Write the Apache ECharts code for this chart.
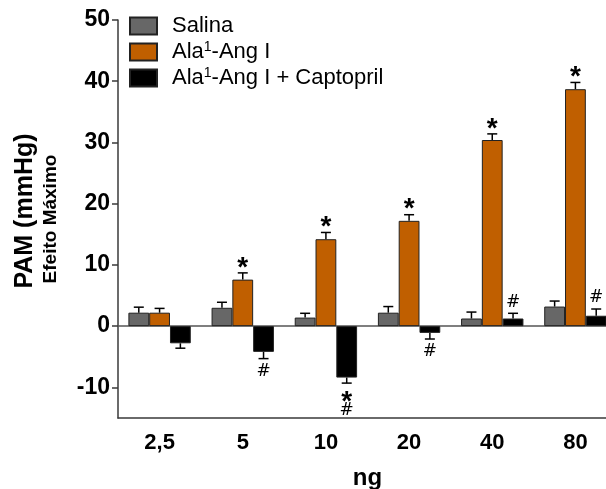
<!DOCTYPE html>
<html>
<head>
<meta charset="utf-8">
<script src="https://cdn.jsdelivr.net/npm/echarts@6/dist/echarts.min.js"></script>
<style>
  html, body { margin: 0; padding: 0; background: #fff; }
  #chart { width: 606px; height: 489px; }
</style>
</head>
<body>
<div id="chart"></div>
<script>
// Doses (ng) on the category axis
const doses = ['2,5', '5', '10', '20', '40', '80'];

// Group names and their legend markup (superscript "1")
const seriesNames = ['Salina', 'Ala1-Ang I', 'Ala1-Ang I + Captopril'];
const legendLabels = ['Salina', 'Ala{sup|1}-Ang I', 'Ala{sup|1}-Ang I + Captopril'];

// Mean change in PAM (mmHg) and SEM per dose
const salina    = [2.2, 3.0, 1.4, 2.2, 1.25, 3.2];
const salinaErr = [0.9, 0.9, 0.7, 1.0, 1.05, 0.9];
const ala       = [2.2, 7.6, 14.2, 17.2, 30.4, 38.7];
const alaErr    = [0.7, 1.1, 1.1, 1.0, 1.0, 1.1];
const capto     = [-2.8, -4.2, -8.4, -1.1, 1.25, 1.7];
const captoErr  = [0.8, 1.1, 0.9, 1.0, 0.85, 1.1];

// Significance marks per group
const salinaMarks = ['', '', '', '', '', ''];
const alaMarks    = ['', '*', '*', '*', '*', '*'];
const captoMarks  = ['', '#', '*#', '#', '#', '#'];

// Y axis ticks and range
const yTicks = [-10, 0, 10, 20, 30, 40, 50];
const yMin = -15, yMax = 50;

const colors = ['#676767', '#C05F00', '#000000'];
const means = [salina, ala, capto];
const errs = [salinaErr, alaErr, captoErr];
const marks = [salinaMarks, alaMarks, captoMarks];

const FONT = '"Liberation Sans", Arial, sans-serif';
const CAT_GAP = 0.25;

function errorRender(params, api) {
  const i = api.value(0);
  const v = api.value(1);
  const e = api.value(2);
  const k = api.value(3);
  const band = api.size([1, 0])[0];
  const bw = band * (1 - CAT_GAP) / 3;
  const x = api.coord([i, 0])[0] + (k - 1) * bw;
  const y0 = api.coord([i, v])[1];
  const dir = v >= 0 ? 1 : -1;
  const y1 = api.coord([i, v + dir * e])[1];
  const cap = 5;
  const children = [
    { type: 'line', shape: { x1: x, y1: y0, x2: x, y2: y1 }, style: { stroke: '#000', lineWidth: 1.5 } },
    { type: 'line', shape: { x1: x - cap, y1: y1, x2: x + cap, y2: y1 }, style: { stroke: '#000', lineWidth: 1.5 } }
  ];
  const m = marks[k][i];
  if (m) {
    let off = 12;
    m.split('').forEach(function (s) {
      const isStar = s === '*';
      const yc = y1 - dir * off;
      children.push({
        type: 'text',
        x: x,
        y: yc + (isStar ? 7 : 1),
        style: {
          text: s,
          fontFamily: isStar ? FONT : '"DejaVu Sans", sans-serif',
          fontSize: isStar ? 28 : 17,
          fontWeight: isStar ? 'bold' : 'normal',
          fill: '#000',
          align: 'center',
          verticalAlign: 'middle'
        }
      });
      off += 14;
    });
  }
  return { type: 'group', children: children };
}

const series = [];
seriesNames.forEach(function (name, k) {
  const s = {
    name: name,
    type: 'bar',
    data: means[k],
    barGap: '0%',
    barCategoryGap: (CAT_GAP * 100) + '%',
    itemStyle: { color: colors[k], borderColor: '#222', borderWidth: 1 },
    z: 2
  };
  if (k === 0) {
    s.markLine = {
      silent: true,
      symbol: 'none',
      label: { show: false },
      lineStyle: { color: '#555', width: 1.5, type: 'solid' },
      data: [{ yAxis: 0 }],
      z: 1
    };
  }
  series.push(s);
});
seriesNames.forEach(function (name, k) {
  series.push({
    type: 'custom',
    renderItem: errorRender,
    data: means[k].map(function (v, i) { return [i, v, errs[k][i], k]; }),
    encode: { x: 0, y: 1 },
    z: 5,
    silent: true
  });
});

const chart = echarts.init(document.getElementById('chart'), null, { renderer: 'canvas' });
chart.setOption({
  animation: false,
  backgroundColor: '#fff',
  grid: { left: 118, right: -11, top: 20, bottom: 71, containLabel: false, outerBoundsMode: 'none' },
  legend: {
    orient: 'vertical',
    left: 129,
    top: 14,
    padding: 0,
    itemWidth: 27,
    itemHeight: 17,
    itemGap: 2,
    icon: 'rect',
    data: seriesNames,
    formatter: function (name) { return legendLabels[seriesNames.indexOf(name)]; },
    textStyle: {
      fontFamily: FONT,
      fontSize: 22,
      color: '#000',
      padding: [0, 0, 0, 10],
      lineHeight: 24,
      rich: {
        sup: { fontFamily: FONT, fontSize: 14, lineHeight: 12, verticalAlign: 'top', color: '#000' }
      }
    }
  },
  xAxis: {
    type: 'category',
    data: doses,
    boundaryGap: true,
    name: 'ng',
    nameLocation: 'middle',
    nameGap: 48,
    nameTextStyle: { fontFamily: FONT, fontSize: 24, fontWeight: 'bold', color: '#000' },
    axisLine: { onZero: false, lineStyle: { color: '#3a3a3a', width: 1.5 } },
    axisTick: { alignWithLabel: true, length: 5, lineStyle: { color: '#3a3a3a', width: 1.5 } },
    axisLabel: { margin: 14, fontFamily: FONT, fontSize: 22, fontWeight: 'bold', color: '#000' },
    splitLine: { show: false }
  },
  yAxis: {
    type: 'value',
    min: yMin,
    max: yMax,
    name: '{a|PAM (mmHg)}\n{b|Efeito Máximo}',
    nameLocation: 'middle',
    nameRotate: 90,
    nameGap: 55,
    nameTextStyle: {
      color: '#000',
      align: 'center',
      rich: {
        a: { fontFamily: FONT, fontSize: 25, fontWeight: 'bold', lineHeight: 27, color: '#000', padding: [0, 0, 0, 16] },
        b: { fontFamily: FONT, fontSize: 19, fontWeight: 'bold', lineHeight: 24, color: '#000' }
      }
    },
    axisLine: { show: true, lineStyle: { color: '#3a3a3a', width: 1.5 } },
    axisTick: { show: true, length: 6, customValues: yTicks, lineStyle: { color: '#3a3a3a', width: 1.5 } },
    axisLabel: { margin: 8, customValues: yTicks, fontFamily: FONT, fontSize: 23, fontWeight: 'bold', color: '#000' },
    splitLine: { show: false }
  },
  series: series
});
</script>
</body>
</html>
